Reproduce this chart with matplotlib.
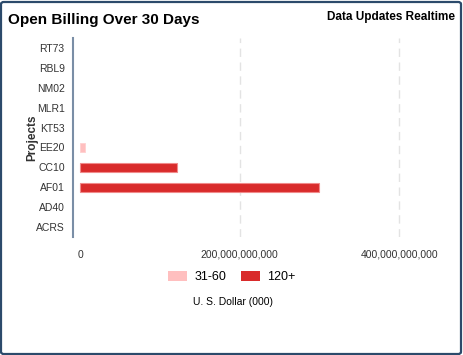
import matplotlib
matplotlib.use("Agg")
import matplotlib.pyplot as plt
from matplotlib.patches import FancyBboxPatch
from matplotlib.ticker import FuncFormatter

plt.rcParams["font.family"] = ["Liberation Sans", "DejaVu Sans"]

PROJECTS = ["ACRS", "AD40", "AF01", "CC10", "EE20", "KT53", "MLR1", "NM02", "RBL9", "RT73"]
DAYS_31_60 = [0, 0, 0, 0, 6e9, 0, 0, 0, 0, 0]
DAYS_120_PLUS = [0, 0, 300e9, 122e9, 0, 0, 0, 0, 0, 0]
X_TICKS = [0, 200e9, 400e9]

W, H = 463, 355
fig = plt.figure(figsize=(W / 100, H / 100), dpi=100)

# outer card border
fig.patches.append(FancyBboxPatch((1 / W, 1 / H), 1 - 3 / W, 1 - 3 / H,
                                  boxstyle="round,pad=0,rounding_size=0.006",
                                  transform=fig.transFigure, facecolor="none",
                                  edgecolor="#2c4a6b", linewidth=1.6, zorder=5))

ax = fig.add_axes([73 / W, 1 - 237 / H, 367 / W, 199 / H])
ypos = list(range(len(PROJECTS)))

# no outline on empty bars
lw_low = [0.6 if v else 0 for v in DAYS_31_60]
lw_high = [0.8 if v else 0 for v in DAYS_120_PLUS]

ax.barh(ypos, DAYS_31_60, height=0.45, color="#ffbfbf", edgecolor="#ffd0d0",
        linewidth=lw_low, label="31-60", zorder=3)
ax.barh(ypos, DAYS_120_PLUS, left=DAYS_31_60, height=0.45, color="#d92b2b",
        edgecolor="#f08a8a", linewidth=lw_high, label="120+", zorder=3)

ax.set_ylim(-0.5, len(PROJECTS) - 0.5)
ax.set_xlim(-8.8e9, 451e9)
ax.set_yticks(ypos)
ax.set_yticklabels(PROJECTS)
ax.set_xticks(X_TICKS)
ax.xaxis.set_major_formatter(FuncFormatter(lambda v, p: f"{v:,.0f}"))
ax.tick_params(axis="both", length=0, labelsize=7.5, colors="#333333")
ax.tick_params(axis="y", pad=6)
ax.tick_params(axis="x", pad=9)

for v in X_TICKS[1:]:
    ax.axvline(v, color="#e3e3e3", linestyle=(0, (6, 4)), linewidth=1, zorder=1)

for side in ["top", "right", "bottom"]:
    ax.spines[side].set_visible(False)
ax.spines["left"].set_color("#7a8ea6")
ax.spines["left"].set_linewidth(1.5)
ax.set_facecolor("none")

ax.set_ylabel("Projects", fontsize=8.5, fontweight="bold", color="#333333", labelpad=-2)

fig.text(8 / W, 1 - 20 / H, "Open Billing Over 30 Days", fontsize=11,
         fontweight="bold", va="center", ha="left")
fig.text(455 / W, 1 - 17 / H, "Data Updates Realtime", fontsize=8.5,
         fontweight="bold", va="center", ha="right")

fig.legend(loc="center", bbox_to_anchor=(232 / W, 1 - 277 / H), ncol=2,
           frameon=False, fontsize=9, handlelength=1.5, handleheight=0.9,
           columnspacing=1.2, handletextpad=0.6)
fig.text(233 / W, 1 - 302 / H, "U. S. Dollar (000)", fontsize=7.5,
         ha="center", va="center")

fig.savefig("out.png", dpi=100)
